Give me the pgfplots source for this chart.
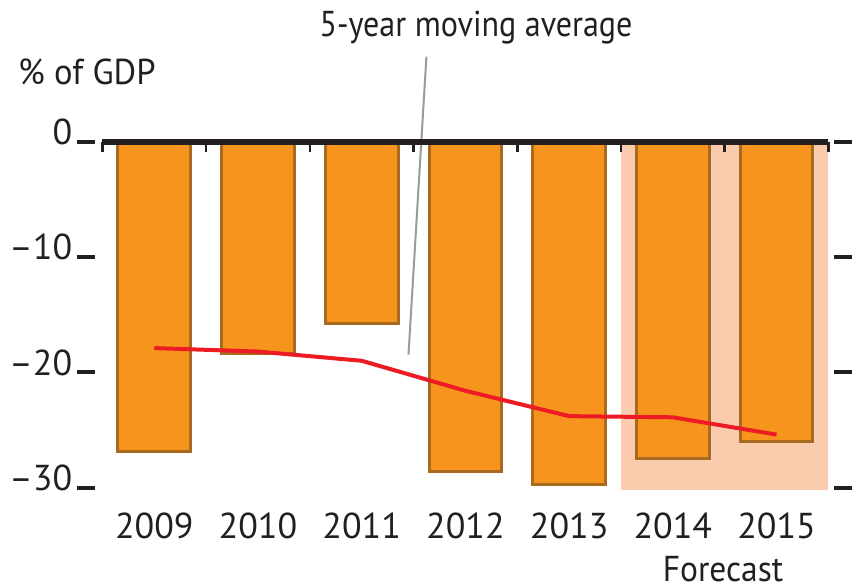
\documentclass[border=0pt]{standalone}
\usepackage{pgfplots}
\pgfplotsset{compat=1.18}
\usepackage{pgfplotstable}
\usepackage{fontspec}
\setmainfont{PT Sans}
\definecolor{barfill}{HTML}{F7941D}
\definecolor{baredge}{HTML}{A86A1F}
\definecolor{fcast}{HTML}{FBCBAE}
\definecolor{mred}{HTML}{ED1C24}
\definecolor{axblack}{HTML}{231F20}
\definecolor{leader}{HTML}{9A9A9A}
\newcommand\bigf{\fontsize{36bp}{40bp}\selectfont}

\pgfplotstableread{
x bal
0 -26.9
1 -18.4
2 -15.8
3 -28.6
4 -29.7
5 -27.5
6 -26.0
}\bartable
\pgfplotstableread{
x avg
0 -17.9
1 -18.2
2 -19.0
3 -21.6
4 -23.8
5 -23.9
6 -25.4
}\avgtable

\begin{document}
\begin{tikzpicture}[x=1bp,y=1bp]
\useasboundingbox (0,0) rectangle (865,588);
\begin{axis}[
  at={(92,77)}, anchor=south west, scale only axis,
  width=739bp, height=363.3bp,
  xmin=-0.5675, xmax=6.558, ymin=-31, ymax=0.5,
  axis line style={draw=none},
  clip=false,
  xtick={0,...,6},
  xticklabels={2009,2010,2011,2012,2013,2014,2015},
  xtick style={draw=none},
  ytick={-30,-20,-10,0},
  yticklabels={–30,–20,–10,0},
  ytick pos=both, yticklabel pos=left,
  tick align=outside,
  major tick length=18bp,
  ytick style={axblack, line width=4bp},
  ticklabel style={font=\bigf, text=axblack},
  yticklabel style={anchor=base east, inner sep=0pt, xshift=-5bp, yshift=-3bp},
  xticklabel style={anchor=base, inner sep=0pt, yshift=-21.5bp},
]
\addplot[fill=fcast, draw=none, forget plot] coordinates {(4.5,0) (6.5,0) (6.5,-30.2) (4.5,-30.2)} -- cycle;
\addplot[ybar, bar width=0.70, bar shift=0pt, fill=barfill, draw=baredge, line width=3bp] table[x=x,y=bal] {\bartable};
\addplot[mred, line width=4bp, mark=none] table[x=x,y=avg] {\avgtable};
\draw[leader, line width=2bp] (axis cs:2.624,7.37) -- (axis cs:2.451,-18.47);
\draw[axblack, line width=6bp] (axis cs:-0.5,0) -- (axis cs:6.5,0);
\pgfplotsinvokeforeach{-0.5,0.5,1.5,2.5,3.5,4.5,5.5,6.5}{
  \draw[axblack, line width=2.5bp] (axis cs:#1,0) -- (axis cs:#1,-0.9);
}
\end{axis}
\node[anchor=base, font=\bigf, text=axblack] at (476,551) {\scalebox{0.89}[1]{5-year moving average}};
\node[anchor=base west, font=\bigf, text=axblack, inner sep=0pt] at (18,503) {\scalebox{0.96}[1]{\% of GDP}};
\node[anchor=base, font=\bigf, text=axblack, inner sep=0pt] at (723,6) {\scalebox{0.93}[1]{Forecast}};
\end{tikzpicture}
\end{document}
